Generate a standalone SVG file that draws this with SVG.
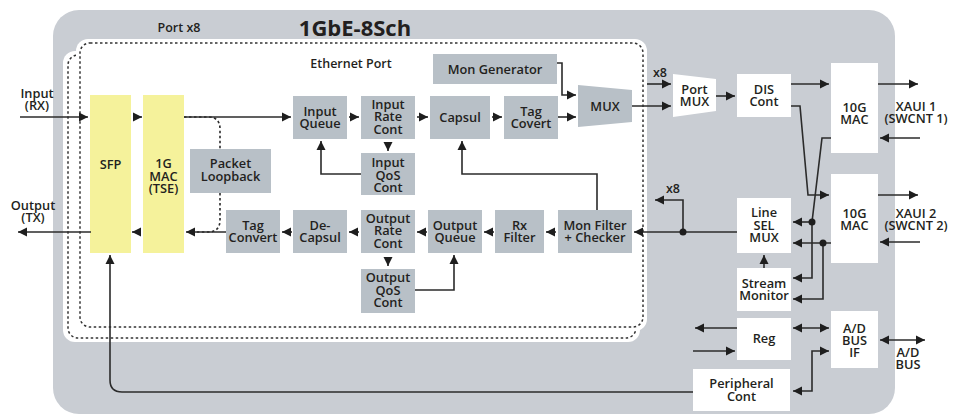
<svg xmlns="http://www.w3.org/2000/svg" width="966" height="416" viewBox="0 0 966 416">
<defs>
<style>
text{font-family:"Open Sans","Liberation Sans",sans-serif;font-weight:600;font-size:12.8px;fill:#231f20;text-anchor:middle}
.g{fill:#b8c0c7}
.w{fill:#ffffff}
.y{fill:#f5f29b}
.c path,.c line{fill:none;stroke:#2b2b2b;stroke-width:1.6}
.c .a{marker-end:url(#ah)}
.c .b{marker-start:url(#ah);marker-end:url(#ah)}
.c .d{stroke-dasharray:2.5 2.5}
.dash{fill:none;stroke:#333;stroke-width:1.5;stroke-dasharray:2.5 2.5}
</style>
<marker id="ah" viewBox="0 0 10 10" refX="10" refY="5" markerWidth="9" markerHeight="10" markerUnits="userSpaceOnUse" orient="auto-start-reverse"><path d="M0,0 L10,5 L0,10 z" fill="#1e1e1e"/></marker>
</defs>
<rect x="53" y="10" width="842" height="404" rx="26" fill="#c9cdd3"/>
<g id="ports">
<rect x="63" y="51" width="577" height="291" rx="12" fill="#fff"/>
<rect x="68" y="55" width="568" height="283" rx="10" class="dash"/>
<rect x="76" y="39" width="571" height="292" rx="12" fill="#fff"/>
<rect x="80" y="43" width="563" height="284" rx="10" class="dash"/>
</g>
<text x="179" y="32" style="font-size:12.5px">Port x8</text>
<text x="355" y="36" style="font-size:22px;font-weight:700">1GbE-8Sch</text>
<text x="351" y="68" style="font-size:12.5px">Ethernet Port</text>
<text x="37" y="98">Input</text><text x="37" y="110">(RX)</text>
<text x="33" y="210">Output</text><text x="33" y="222">(TX)</text>
<text x="660" y="77" style="font-size:12.5px">x8</text>
<text x="673" y="193" style="font-size:12.5px">x8</text>
<text x="916" y="111">XAUI 1</text><text x="916" y="123">(SWCNT 1)</text>
<text x="916" y="218">XAUI 2</text><text x="916" y="230">(SWCNT 2)</text>
<text x="908" y="357">A/D</text><text x="908" y="369">BUS</text>

<g id="sfp"><rect class="y" x="90" y="95" width="41" height="158"/><text x="110.5" y="169">SFP</text></g>
<g id="mac1g"><rect class="y" x="143" y="95" width="41" height="158"/><text x="163.5" y="168">1G</text><text x="163.5" y="181">MAC</text><text x="163.5" y="193">(TSE)</text></g>
<g id="loopback"><rect class="g" x="190" y="149" width="81" height="44"/><text x="230.5" y="168">Packet</text><text x="230.5" y="181">Loopback</text></g>
<g id="inqueue"><rect class="g" x="293" y="96" width="54" height="43"/><text x="320" y="116">Input</text><text x="320" y="128">Queue</text></g>
<g id="inrate"><rect class="g" x="361" y="96" width="54" height="43"/><text x="388" y="108.5">Input</text><text x="388" y="121">Rate</text><text x="388" y="133.5">Cont</text></g>
<g id="inqos"><rect class="g" x="361" y="153" width="54" height="42"/><text x="388" y="167">Input</text><text x="388" y="179.5">QoS</text><text x="388" y="192">Cont</text></g>
<g id="capsul"><rect class="g" x="430" y="96" width="60" height="43"/><text x="460" y="122">Capsul</text></g>
<g id="tagcovert"><rect class="g" x="504" y="96" width="54" height="43"/><text x="531" y="116">Tag</text><text x="531" y="128">Covert</text></g>
<g id="mongen"><rect class="g" x="433" y="54" width="124" height="30"/><text x="495" y="74">Mon Generator</text></g>
<g id="mux"><polygon class="g" points="578,85 632,90 632,122 578,127"/><text x="605" y="111">MUX</text></g>
<g id="tagconvert"><rect class="g" x="226" y="210" width="54" height="43"/><text x="253" y="229.5">Tag</text><text x="253" y="242">Convert</text></g>
<g id="decapsul"><rect class="g" x="293" y="210" width="54" height="43"/><text x="320" y="229.5">De-</text><text x="320" y="242">Capsul</text></g>
<g id="outrate"><rect class="g" x="361" y="210" width="54" height="43"/><text x="388" y="222.5">Output</text><text x="388" y="235">Rate</text><text x="388" y="247.5">Cont</text></g>
<g id="outqos"><rect class="g" x="361" y="269" width="54" height="44"/><text x="388" y="282">Output</text><text x="388" y="294.5">QoS</text><text x="388" y="307">Cont</text></g>
<g id="outqueue"><rect class="g" x="428" y="210" width="54" height="43"/><text x="455" y="229.5">Output</text><text x="455" y="242">Queue</text></g>
<g id="rxfilter"><rect class="g" x="495" y="210" width="49" height="43"/><text x="519.5" y="229.5">Rx</text><text x="519.5" y="242">Filter</text></g>
<g id="monfilter"><rect class="g" x="558" y="210" width="74" height="43"/><text x="595" y="229.5">Mon Filter</text><text x="595" y="242">+ Checker</text></g>
<g id="portmux"><polygon class="w" points="673,74 716,79 716,111 673,117"/><text x="694.5" y="94">Port</text><text x="694.5" y="106">MUX</text></g>
<g id="discont"><rect class="w" x="737" y="74" width="54" height="43"/><text x="764" y="93.5">DIS</text><text x="764" y="105.5">Cont</text></g>
<g id="mac10g1"><rect class="w" x="831" y="63" width="47" height="90"/><text x="854.5" y="112">10G</text><text x="854.5" y="124">MAC</text></g>
<g id="mac10g2"><rect class="w" x="831" y="174" width="47" height="89"/><text x="854.5" y="218">10G</text><text x="854.5" y="230">MAC</text></g>
<g id="linesel"><rect class="w" x="737" y="198" width="54" height="55"/><text x="764" y="217">Line</text><text x="764" y="229.5">SEL</text><text x="764" y="242">MUX</text></g>
<g id="streammon"><rect class="w" x="737" y="268" width="54" height="43"/><text x="764" y="288">Stream</text><text x="764" y="300">Monitor</text></g>
<g id="reg"><rect class="w" x="737" y="318" width="54" height="42"/><text x="764" y="343">Reg</text></g>
<g id="peripheral"><rect class="w" x="693" y="369" width="97" height="42"/><text x="741.5" y="388">Peripheral</text><text x="741.5" y="401">Cont</text></g>
<g id="adbusif"><rect class="w" x="831" y="311" width="47" height="57"/><text x="854.5" y="333">A/D</text><text x="854.5" y="345">BUS</text><text x="854.5" y="357">IF</text></g>

<g id="connectors" class="c">
<line class="a" x1="20" y1="117" x2="88" y2="117"/>
<line class="a" x1="133" y1="117" x2="142" y2="117"/>
<line class="a" x1="184" y1="117" x2="291" y2="117"/>
<path class="d" d="M184,117 H208 Q220,117 220,129 V149"/>
<path class="d" d="M220,193 V220 Q220,232 208,232 H195"/>
<line class="a" x1="349" y1="117" x2="359" y2="117"/>
<line class="a" x1="417" y1="117" x2="428" y2="117"/>
<line class="a" x1="492" y1="117" x2="502" y2="117"/>
<line class="a" x1="558" y1="117" x2="576" y2="117"/>
<path class="a" d="M557,63 H562 V95 H576"/>
<line class="a" x1="388" y1="142" x2="388" y2="151"/>
<path class="a" d="M361,174 H321 V141"/>
<path class="a" d="M597,210 V174 H462 V141"/>
<line class="a" x1="632" y1="106" x2="671" y2="106"/>
<line class="a" x1="647" y1="84" x2="671" y2="84"/>
<line class="a" x1="716" y1="96" x2="735" y2="96"/>
<line class="a" x1="791" y1="84" x2="829" y2="84"/>
<path class="a" d="M791,106 H800 L808,195 H829"/>
<path class="a" d="M831,138 H822 L812,222 V278 H793"/>
<line class="a" x1="812" y1="222" x2="793" y2="222"/>
<line class="a" x1="831" y1="243" x2="793" y2="243"/>
<path class="a" d="M823,243 V299 H793"/>
<line class="a" x1="764" y1="268" x2="764" y2="255"/>
<line class="a" x1="737" y1="232" x2="634" y2="232"/>
<path class="a" d="M683,232 V200 H655"/>
<line class="a" x1="556" y1="232" x2="546" y2="232"/>
<line class="a" x1="494" y1="232" x2="484" y2="232"/>
<line class="a" x1="427" y1="232" x2="417" y2="232"/>
<line class="a" x1="359" y1="232" x2="349" y2="232"/>
<line class="a" x1="292" y1="232" x2="282" y2="232"/>
<line class="a" x1="226" y1="232" x2="186" y2="232"/>
<line class="a" x1="141" y1="232" x2="132" y2="232"/>
<line class="a" x1="91" y1="232" x2="18" y2="232"/>
<line class="a" x1="388" y1="257" x2="388" y2="266"/>
<path class="a" d="M415,290 H454 V255"/>
<path class="a" d="M693,392 H122 Q110,392 110,380 V255"/>
<line class="a" x1="878" y1="84" x2="918" y2="84"/>
<line class="a" x1="920" y1="138" x2="880" y2="138"/>
<line class="a" x1="878" y1="195" x2="918" y2="195"/>
<line class="a" x1="920" y1="242" x2="880" y2="242"/>
<line class="a" x1="737" y1="328" x2="695" y2="328"/>
<line class="a" x1="693" y1="351" x2="735" y2="351"/>
<line class="b" x1="793" y1="328" x2="829" y2="328"/>
<path class="b" d="M793,391 H812 V351 H829"/>
<line class="b" x1="880" y1="340" x2="925" y2="340"/>
<circle cx="683" cy="232" r="3.5" fill="#1e1e1e"/>
<circle cx="812" cy="222" r="3.5" fill="#1e1e1e"/>
<circle cx="823" cy="243" r="3.5" fill="#1e1e1e"/>
</g>
</svg>
